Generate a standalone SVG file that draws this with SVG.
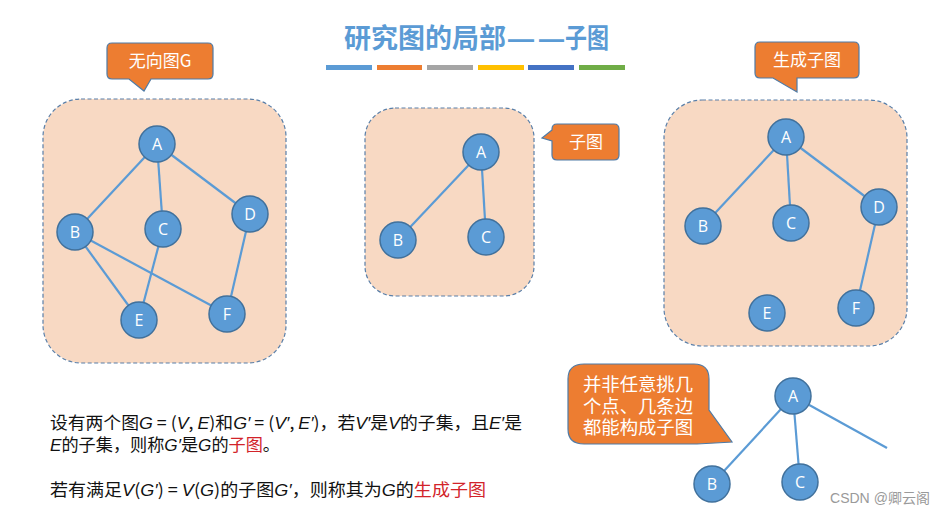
<svg xmlns="http://www.w3.org/2000/svg" width="945" height="515" viewBox="0 0 945 515">
<style>
.box{fill:#F8D9C3;stroke:#5A7FA8;stroke-width:1.2;stroke-dasharray:4 2.5}
.call{fill:#ED7D31;stroke:#4F7BA6;stroke-width:1.2}
.ct{fill:#ffffff;font-family:"Noto Sans CJK SC","Liberation Sans",sans-serif;font-size:17px;text-anchor:middle}
.nd circle{fill:#5B9BD5;stroke:#41719C;stroke-width:1.5}
.nd text{fill:#ffffff;font-family:"Open Sans","Liberation Sans",sans-serif;font-size:16px;text-anchor:middle}
.edge{stroke:#5B9BD5;stroke-width:2.2;fill:none}
.bt{font-family:"Noto Sans CJK SC",sans-serif;font-size:17px;fill:#111}
.it{font-family:"Liberation Sans","Noto Sans",sans-serif;font-style:italic}
.red{fill:#D2232A}
.dash{font-family:"Liberation Sans",sans-serif}
</style>
<rect width="945" height="515" fill="#ffffff"/>
<g id="title">
<text y="48" font-family="Noto Sans CJK SC, sans-serif" font-size="27" font-weight="bold" fill="#5B9BD5"><tspan x="344" textLength="162" lengthAdjust="spacingAndGlyphs">研究图的局部</tspan><tspan class="dash" x="508" textLength="26" lengthAdjust="spacingAndGlyphs">—</tspan><tspan class="dash" x="539" textLength="25" lengthAdjust="spacingAndGlyphs">—</tspan><tspan x="565" textLength="44" lengthAdjust="spacingAndGlyphs">子图</tspan></text>
<rect x="326" y="65" width="46" height="5" fill="#5B9BD5"/>
<rect x="377" y="65" width="45" height="5" fill="#ED7D31"/>
<rect x="427" y="65" width="46" height="5" fill="#A5A5A5"/>
<rect x="478" y="65" width="46" height="5" fill="#FFC000"/>
<rect x="528" y="65" width="46" height="5" fill="#4472C4"/>
<rect x="579" y="65" width="46" height="5" fill="#70AD47"/>
</g>
<g id="box-left"><rect class="box" x="43" y="99" width="243" height="264" rx="38"/></g>
<g id="box-mid"><rect class="box" x="365" y="108" width="169" height="188" rx="30"/></g>
<g id="box-right"><rect class="box" x="664" y="100" width="243" height="246" rx="38"/></g>
<g id="callout-g">
<path class="call" d="M112,43 H208 Q213,43 213,48 V74 Q213,79 208,79 H151 L144,91 L129,79 H112 Q107,79 107,74 V48 Q107,43 112,43 Z"/>
<text class="ct" x="160" y="67">无向图G</text>
</g>
<g id="callout-sub">
<path class="call" d="M557,124 H614 Q619,124 619,129 V155 Q619,160 614,160 H557 Q552,160 552,155 V141 L542,138 L552,130 V129 Q552,124 557,124 Z"/>
<text class="ct" x="586" y="148">子图</text>
</g>
<g id="callout-span">
<path class="call" d="M760,42 H854 Q859,42 859,47 V73 Q859,78 854,78 H797 V92 L773,78 H760 Q755,78 755,73 V47 Q755,42 760,42 Z"/>
<text class="ct" x="807" y="66">生成子图</text>
</g>
<g id="callout-note">
<path class="call" d="M584,364 H694 Q709,364 709,379 V410 L732,442 L697,444 H584 Q568,444 568,429 V379 Q568,364 584,364 Z"/>
<text font-family="Noto Sans CJK SC, sans-serif" font-size="18" fill="#ffffff"><tspan x="583" y="391" textLength="110" lengthAdjust="spacingAndGlyphs">并非任意挑几</tspan><tspan x="583" y="413" textLength="110" lengthAdjust="spacingAndGlyphs">个点、几条边</tspan><tspan x="583" y="434" textLength="110" lengthAdjust="spacingAndGlyphs">都能构成子图</tspan></text>
</g>
<g id="connectors">
<line class="edge" x1="157" y1="144" x2="75" y2="232"/>
<line class="edge" x1="157" y1="144" x2="163" y2="229"/>
<line class="edge" x1="157" y1="144" x2="250" y2="214"/>
<line class="edge" x1="75" y1="232" x2="139" y2="320"/>
<line class="edge" x1="75" y1="232" x2="227" y2="314"/>
<line class="edge" x1="163" y1="229" x2="139" y2="320"/>
<line class="edge" x1="250" y1="214" x2="227" y2="314"/>
<line class="edge" x1="481" y1="152" x2="398" y2="240"/>
<line class="edge" x1="481" y1="152" x2="486" y2="237"/>
<line class="edge" x1="786" y1="137" x2="703" y2="226"/>
<line class="edge" x1="786" y1="137" x2="791" y2="223"/>
<line class="edge" x1="786" y1="137" x2="879" y2="207"/>
<line class="edge" x1="879" y1="207" x2="856" y2="308"/>
<line class="edge" x1="793" y1="396" x2="712" y2="484"/>
<line class="edge" x1="793" y1="396" x2="800" y2="482"/>
<line class="edge" x1="793" y1="396" x2="887" y2="448"/>
</g>
<g id="g1-A" class="nd"><circle cx="157" cy="144" r="18"/><text x="157" y="150">A</text></g>
<g id="g1-B" class="nd"><circle cx="75" cy="232" r="18"/><text x="75" y="238">B</text></g>
<g id="g1-C" class="nd"><circle cx="163" cy="229" r="18"/><text x="163" y="235">C</text></g>
<g id="g1-D" class="nd"><circle cx="250" cy="214" r="18"/><text x="250" y="220">D</text></g>
<g id="g1-E" class="nd"><circle cx="139" cy="320" r="18"/><text x="139" y="326">E</text></g>
<g id="g1-F" class="nd"><circle cx="227" cy="314" r="18"/><text x="227" y="320">F</text></g>
<g id="g2-A" class="nd"><circle cx="481" cy="152" r="18"/><text x="481" y="158">A</text></g>
<g id="g2-B" class="nd"><circle cx="398" cy="240" r="18"/><text x="398" y="246">B</text></g>
<g id="g2-C" class="nd"><circle cx="486" cy="237" r="18"/><text x="486" y="243">C</text></g>
<g id="g3-A" class="nd"><circle cx="786" cy="137" r="18"/><text x="786" y="143">A</text></g>
<g id="g3-B" class="nd"><circle cx="703" cy="226" r="18"/><text x="703" y="232">B</text></g>
<g id="g3-C" class="nd"><circle cx="791" cy="223" r="18"/><text x="791" y="229">C</text></g>
<g id="g3-D" class="nd"><circle cx="879" cy="207" r="18"/><text x="879" y="213">D</text></g>
<g id="g3-E" class="nd"><circle cx="767" cy="313" r="18"/><text x="767" y="319">E</text></g>
<g id="g3-F" class="nd"><circle cx="856" cy="308" r="18"/><text x="856" y="314">F</text></g>
<g id="g4-A" class="nd"><circle cx="793" cy="396" r="18"/><text x="793" y="402">A</text></g>
<g id="g4-B" class="nd"><circle cx="712" cy="484" r="18"/><text x="712" y="490">B</text></g>
<g id="g4-C" class="nd"><circle cx="800" cy="482" r="18"/><text x="800" y="488">C</text></g>
<g id="text">
<text class="bt"><tspan x="50" y="429" textLength="472" lengthAdjust="spacingAndGlyphs">设有两个图<tspan class="it">G</tspan> = (<tspan class="it">V</tspan>, <tspan class="it">E</tspan>)和<tspan class="it">G′</tspan> = (<tspan class="it">V′</tspan>, <tspan class="it">E′</tspan>)，若<tspan class="it">V′</tspan>是<tspan class="it">V</tspan>的子集，且<tspan class="it">E′</tspan>是</tspan><tspan x="50" y="451" textLength="230" lengthAdjust="spacingAndGlyphs"><tspan class="it">E</tspan>的子集，则称<tspan class="it">G′</tspan>是<tspan class="it">G</tspan>的<tspan class="red">子图</tspan>。</tspan></text>
<text class="bt" x="50" y="496" textLength="436" lengthAdjust="spacingAndGlyphs">若有满足<tspan class="it">V</tspan>(<tspan class="it">G′</tspan>) = <tspan class="it">V</tspan>(<tspan class="it">G</tspan>)的子图<tspan class="it">G′</tspan>，则称其为<tspan class="it">G</tspan>的<tspan class="red">生成子图</tspan></text>
<text x="830" y="503" textLength="100" lengthAdjust="spacingAndGlyphs" font-family="Liberation Sans, Noto Sans CJK SC, sans-serif" font-size="14" fill="#9A9A9A">CSDN @卿云阁</text>
</g>
</svg>
